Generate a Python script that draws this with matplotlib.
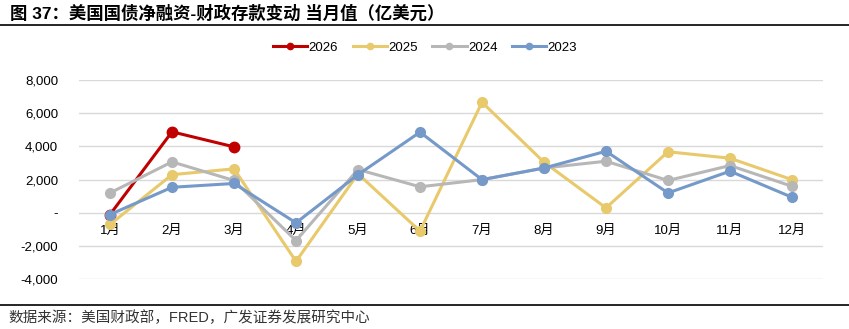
import numpy as np
import matplotlib.pyplot as plt
from matplotlib.lines import Line2D

plt.rcParams['font.family'] = ['Liberation Sans', 'Noto Sans CJK SC', 'DejaVu Sans']
plt.rcParams['axes.unicode_minus'] = False

months = ['1月', '2月', '3月', '4月', '5月', '6月', '7月', '8月', '9月', '10月', '11月', '12月']
y2026 = [-100, 4880, 3975]
y2025 = [-700, 2300, 2650, -2920, 2350, -1100, 6660, 3050, 300, 3680, 3290, 2000]
y2024 = [1200, 3070, 1950, -1670, 2610, 1570, 2000, 2700, 3110, 1950, 2850, 1600]
y2023 = [-100, 1540, 1770, -600, 2300, 4860, 2000, 2700, 3710, 1200, 2510, 940]

series = [('2026', y2026, '#C00000'),
          ('2025', y2025, '#E8C96B'),
          ('2024', y2024, '#B7B7B7'),
          ('2023', y2023, '#7599C8')]

fig = plt.figure(figsize=(8.49, 3.29), dpi=100)
ax = fig.add_axes([79 / 849, 1 - 279.3 / 329, (823 - 79) / 849, (279.3 - 80) / 329])

x = np.arange(len(months))
# excel-style: later series drawn on top
for i, (name, vals, color) in enumerate(series):
    ax.plot(x[:len(vals)], vals, color=color, lw=2.2, marker='o',
            ms=7.5 if name == '2026' else 7, label=name, zorder=2 + i)

ax.set_xlim(-0.5, len(months) - 0.5)
ax.set_ylim(-4000, 8000)
ax.set_yticks(np.arange(-4000, 8001, 2000))
ax.set_yticklabels(['-4,000', '-2,000', '-', '2,000', '4,000', '6,000', '8,000'])
ax.yaxis.grid(True, color='#D9D9D9', lw=1)
ax.set_axisbelow(True)
ax.set_xticks(x)
ax.set_xticklabels(months)
for s in ['top', 'right', 'left']:
    ax.spines[s].set_visible(False)
ax.spines['bottom'].set_position(('data', 0))
ax.spines['bottom'].set_visible(False)
ax.tick_params(axis='both', length=0, labelsize=9.5, colors='black')
ax.tick_params(axis='x', pad=9)
ax.tick_params(axis='y', pad=15)

handles = [Line2D([], [], color=c, lw=2.2, marker='o', ms=4.5) for _, _, c in series]
fig.legend(handles, [n for n, _, _ in series], loc='center', bbox_to_anchor=(425 / 849, 1 - 48 / 329),
           ncol=4, frameon=False, fontsize=9.5, handlelength=2.6, columnspacing=1.1,
           handletextpad=0.1, borderpad=0)

fig.text(10 / 849, 1 - 13 / 329, '图 37：美国国债净融资-财政存款变动 当月值（亿美元）',
         fontsize=12.5, fontweight='bold', va='center', ha='left')
fig.add_artist(Line2D([0, 1], [1 - 25 / 329, 1 - 25 / 329], color='black', lw=1.2))
fig.add_artist(Line2D([0, 1], [1 - 304.5 / 329, 1 - 304.5 / 329], color='black', lw=1.2))
fig.text(8 / 849, 1 - 318 / 329, '数据来源：美国财政部，FRED，广发证券发展研究中心',
         fontsize=10.5, va='center', ha='left', color='#333333')

fig.savefig('out.png', dpi=100)
